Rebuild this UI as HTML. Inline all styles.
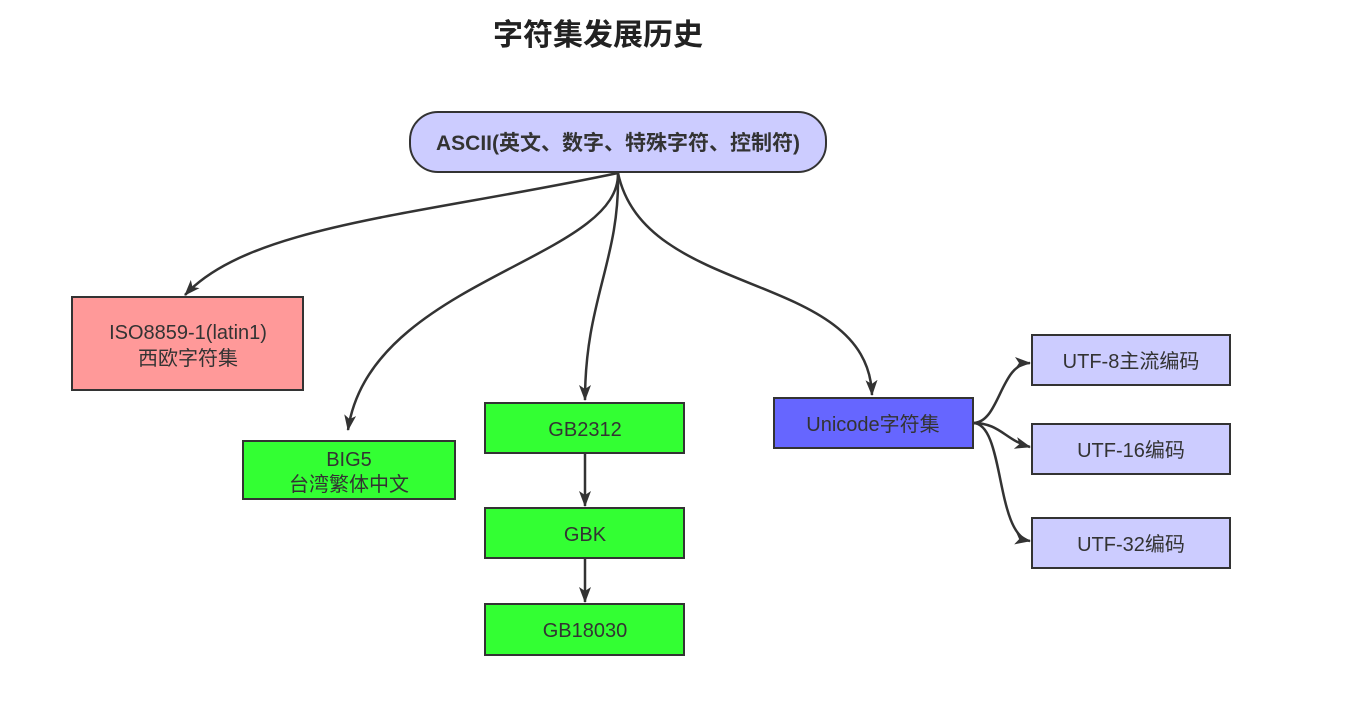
<!DOCTYPE html>
<html><head><meta charset="utf-8"><style>
html,body{margin:0;padding:0;background:#fff;}
svg text{font-family:"Liberation Sans","Noto Sans CJK SC",sans-serif;}
</style></head><body>
<svg width="1355" height="715" viewBox="0 0 1355 715" xmlns="http://www.w3.org/2000/svg">
<defs>
<marker id="a" viewBox="0 0 16 12" refX="15" refY="6" markerWidth="16" markerHeight="12" orient="auto" markerUnits="userSpaceOnUse">
<path d="M0,0 L16,6 L0,12 L4,6 Z" fill="#333"/>
</marker>
</defs>
<text x="598" y="45" text-anchor="middle" font-size="30" font-weight="bold" fill="#222">字符集发展历史</text>
<g stroke="#333" stroke-width="2.5" fill="none" marker-end="url(#a)">
<path d="M618,173 C420,215 250,225 185,295"/>
<path d="M618,173 C620,260 370,280 348,430"/>
<path d="M618,173 C620,260 585,300 585,400"/>
<path d="M618,173 C645,300 868,270 872,395"/>
<path d="M585,453 L585,506"/>
<path d="M585,558 L585,602"/>
<path d="M973,423 C1000,423 1000,363 1030,363"/>
<path d="M973,423 C1000,423 1005,440 1030,447"/>
<path d="M973,423 C1005,423 995,535 1030,541"/>
</g>
<g stroke="#333" stroke-width="2">
<rect x="410" y="112" width="416" height="60" rx="28" fill="#ccccff"/>
<rect x="72" y="297" width="231" height="93" fill="#ff9999"/>
<rect x="243" y="441" width="212" height="58" fill="#33ff33"/>
<rect x="485" y="403" width="199" height="50" fill="#33ff33"/>
<rect x="485" y="508" width="199" height="50" fill="#33ff33"/>
<rect x="485" y="604" width="199" height="51" fill="#33ff33"/>
<rect x="774" y="398" width="199" height="50" fill="#6666ff"/>
<rect x="1032" y="335" width="198" height="50" fill="#ccccff"/>
<rect x="1032" y="424" width="198" height="50" fill="#ccccff"/>
<rect x="1032" y="518" width="198" height="50" fill="#ccccff"/>
</g>
<g font-size="20" fill="#333" text-anchor="middle">
<text x="618" y="150" font-weight="bold" font-size="21">ASCII(英文、数字、特殊字符、控制符)</text>
<text x="188" y="339">ISO8859-1(latin1)</text>
<text x="188" y="365">西欧字符集</text>
<text x="349" y="466">BIG5</text>
<text x="349" y="491">台湾繁体中文</text>
<text x="585" y="436">GB2312</text>
<text x="585" y="541">GBK</text>
<text x="585" y="637">GB18030</text>
<text x="873" y="431">Unicode字符集</text>
<text x="1131" y="368">UTF-8主流编码</text>
<text x="1131" y="457">UTF-16编码</text>
<text x="1131" y="551">UTF-32编码</text>
</g>
</svg>
</body></html>
